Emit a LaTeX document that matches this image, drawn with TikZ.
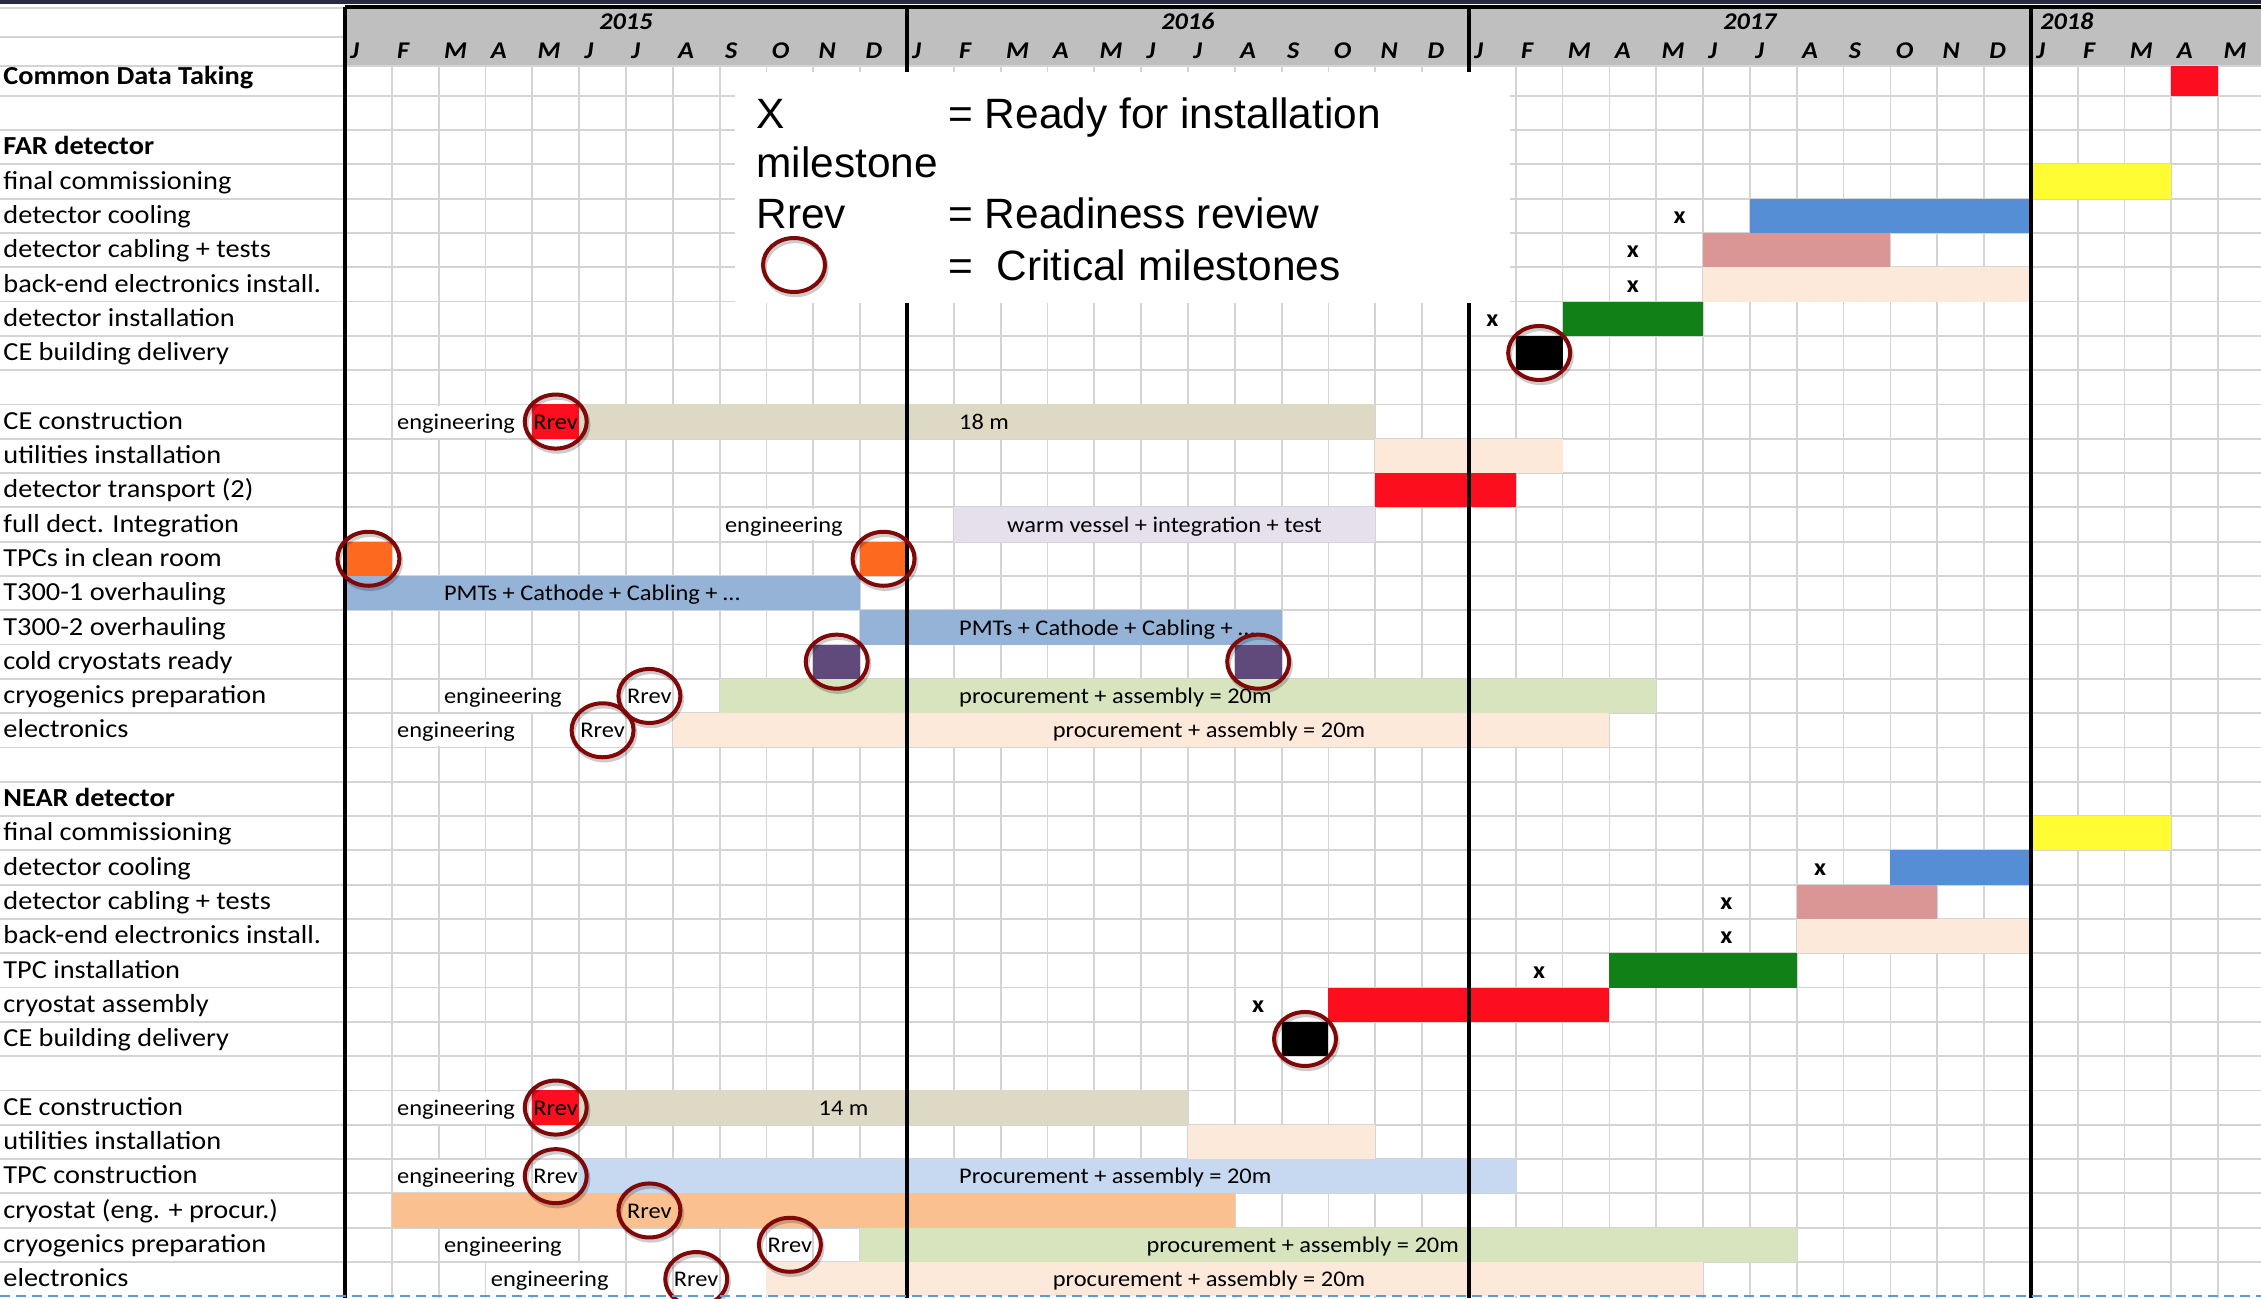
\documentclass[tikz,border=0pt]{standalone}
\usepackage{fontspec}
\setmainfont{Carlito}[FakeStretch=1.09]
\newfontfamily\legfont{Liberation Sans}
\usetikzlibrary{shapes.geometric}
\definecolor{navyband}{RGB}{38,42,68}
\definecolor{hdrgray}{RGB}{191,191,191}
\definecolor{gridgray}{RGB}{212,212,212}
\definecolor{cred}{RGB}{252,14,30}
\definecolor{ctan}{RGB}{221,217,196}
\definecolor{cpeach}{RGB}{252,233,218}
\definecolor{clav}{RGB}{229,224,236}
\definecolor{cblueA}{RGB}{149,179,215}
\definecolor{ccool}{RGB}{85,142,213}
\definecolor{cpink}{RGB}{217,150,148}
\definecolor{cdgreen}{RGB}{17,128,22}
\definecolor{cyellow}{RGB}{255,252,52}
\definecolor{corange}{RGB}{253,106,31}
\definecolor{cpurple}{RGB}{96,74,123}
\definecolor{clgreen}{RGB}{215,228,189}
\definecolor{clblue}{RGB}{198,217,241}
\definecolor{ccryo}{RGB}{250,192,144}
\definecolor{critred}{RGB}{128,8,8}
\definecolor{dashblue}{RGB}{91,155,213}
\newcommand\rowlab[3][lab]{\node[#1] (lab#2) at (3,{rb(#2)}) {#3};}
\newcommand\gbar[4]{\fill[#4] ({mx(#2)},{rt(#1)}) rectangle ({mx(#3)},{rt(#1+1)});}
\newcommand\wcell[3]{\fill[white] ({mx(#2)+1},{rt(#1)+1.2}) rectangle ({mx(#3)-1},{rt(#1+1)-1.2});}
\newcommand\btext[4]{\node[btxt] (#1) at ({mx(#3)+5},{rb(#2)}) {#4};}
\newcommand\ctext[4]{\node[btxt,anchor=base] (#1) at ({mx(#3)},{rb(#2)}) {#4};}
\newcommand\xmark[3]{\node[xmk] (#1) at ({mx(#3+0.5)},{rb(#2)}) {x};}
\newcommand\crit[3]{\draw[critshadow] ({mx(#2)+1.5},{rc(#3)+3}) ellipse [x radius=15.5pt, y radius=13.5pt];
  \node[crit] (#1) at ({mx(#2)},{rc(#3)}) {};}
\begin{document}
\begin{tikzpicture}[x=0.5pt,y=-0.5pt,
  declare function={mx(\k)=345+46.83*\k; rt(\r)=61.4+34.3*\r; rb(\r)=86.2+34.3*\r; rc(\r)=78.55+34.3*\r;},
  grid/.style={draw=gridgray, line width=0.9pt},
  yrline/.style={draw=black, line width=1.7pt},
  lab/.style={anchor=base west, inner sep=0pt, font=\fontsize{13}{15}\selectfont},
  labb/.style={anchor=base west, inner sep=0pt, font=\fontsize{13}{15}\selectfont\bfseries},
  btxt/.style={anchor=base west, inner sep=0pt, font=\fontsize{11.2}{13}\selectfont},
  hdr/.style={anchor=base west, inner sep=0pt, font=\fontsize{12}{14}\selectfont\bfseries\itshape},
  xmk/.style={anchor=base, inner sep=0pt, font=\fontsize{12}{14}\selectfont\bfseries},
  leg/.style={anchor=base west, inner sep=0pt, font=\legfont\fontsize{21.2}{25}\selectfont},
  crit/.style={ellipse, draw=critred, line width=2pt, minimum width=31pt, minimum height=27pt, inner sep=0pt},
  critshadow/.style={draw=black, opacity=0.2, line width=2.2pt}]
\useasboundingbox (0,0) rectangle (2261,1298);
\clip (0,0) rectangle (2261,1298);
\fill[white] (0,0) rectangle (2261,1298);
\fill[navyband] (0,0) rectangle (2261,3.5);
\fill[hdrgray] (345,7) rectangle (2261,66);
% grid
\draw[grid] (0,8) -- (345,8);
\draw[grid] (0,37) -- (345,37);
\draw[grid] (0,66) -- (2261,66);
\foreach \r in {1,...,35} \draw[grid] (0,{rt(\r)}) -- (2261,{rt(\r)});
\foreach \k in {1,...,40} \draw[grid] ({mx(\k)},66) -- ({mx(\k)},1298);
% bars
\fill[cred] ({mx(39)},66) rectangle ({mx(40)},{rt(1)});
\gbar{3}{36}{39}{cyellow}
\gbar{4}{30}{36}{ccool}
\gbar{5}{29}{33}{cpink}
\gbar{6}{29}{36}{cpeach}
\gbar{7}{26}{29}{cdgreen}
\gbar{8}{25}{26}{black}
\gbar{10}{4}{5}{cred}
\gbar{10}{5}{22}{ctan}
\gbar{11}{22}{26}{cpeach}
\gbar{12}{22}{25}{cred}
\gbar{13}{13}{22}{clav}
\gbar{14}{0}{1}{corange}
\gbar{14}{11}{12}{corange}
\gbar{15}{0}{11}{cblueA}
\gbar{16}{11}{20}{cblueA}
\gbar{17}{10}{11}{cpurple}
\gbar{17}{19}{20}{cpurple}
\gbar{18}{8}{28}{clgreen}
\gbar{19}{7}{27}{cpeach}
\gbar{22}{36}{39}{cyellow}
\gbar{23}{33}{36}{ccool}
\gbar{24}{31}{34}{cpink}
\gbar{25}{31}{36}{cpeach}
\gbar{26}{27}{31}{cdgreen}
\gbar{27}{21}{27}{cred}
\gbar{28}{20}{21}{black}
\gbar{30}{4}{5}{cred}
\gbar{30}{5}{18}{ctan}
\gbar{31}{18}{22}{cpeach}
\gbar{32}{5}{25}{clblue}
\gbar{33}{1}{19}{ccryo}
\gbar{34}{11}{31}{clgreen}
\gbar{35}{9}{29}{cpeach}
% white overflow cells
\wcell{10}{1}{4}
\wcell{13}{8}{11}
\wcell{18}{2}{5}
\wcell{19}{1}{4}
\wcell{30}{1}{4}
\wcell{32}{1}{4}
\wcell{34}{2}{5}
\wcell{35}{3}{6}
% header
\draw[yrline] (345,7) -- (2261,7);
\node[hdr,anchor=base] (y2015) at ({mx(6)},29.5) {2015};
\node[hdr,anchor=base] (y2016) at ({mx(18)},29.5) {2016};
\node[hdr,anchor=base] (y2017) at ({mx(30)},29.5) {2017};
\node[hdr] (y2018) at ({mx(36)+9},29.5) {2018};
\foreach \m [count=\i from 0] in {J,F,M,A,M,J,J,A,S,O,N,D,J,F,M,A,M,J,J,A,S,O,N,D,J,F,M,A,M,J,J,A,S,O,N,D,J,F,M,A,M}
  \node[hdr] (m\i) at ({mx(\i)+5},58) {\m};
% row labels
\node[labb] (lab0) at (3,84) {Common Data Taking};
\rowlab[labb]{2}{FAR detector}
\rowlab{3}{final commissioning}
\rowlab{4}{detector cooling}
\rowlab{5}{detector cabling + tests}
\rowlab{6}{back-end electronics install.}
\rowlab{7}{detector installation}
\rowlab{8}{CE building delivery}
\rowlab{10}{CE construction}
\rowlab{11}{utilities installation}
\rowlab{12}{detector transport (2)}
\rowlab{13}{full dect. Integration}
\rowlab{14}{TPCs in clean room}
\rowlab{15}{T300-1 overhauling}
\rowlab{16}{T300-2 overhauling}
\rowlab{17}{cold cryostats ready}
\rowlab{18}{cryogenics preparation}
\rowlab{19}{electronics}
\rowlab[labb]{21}{NEAR detector}
\rowlab{22}{final commissioning}
\rowlab{23}{detector cooling}
\rowlab{24}{detector cabling + tests}
\rowlab{25}{back-end electronics install.}
\rowlab{26}{TPC installation}
\rowlab{27}{cryostat assembly}
\rowlab{28}{CE building delivery}
\rowlab{30}{CE construction}
\rowlab{31}{utilities installation}
\rowlab{32}{TPC construction}
\rowlab{33}{cryostat (eng. + procur.)}
\rowlab{34}{cryogenics preparation}
\rowlab{35}{electronics}
% bar texts
\btext{eA}{10}{1}{engineering}
\ctext{rA}{10}{4.5}{Rrev}
\btext{tA}{10}{13}{18 m}
\btext{eB}{13}{8}{engineering}
\ctext{tB}{13}{17.5}{warm vessel + integration + test}
\btext{tC}{15}{2}{PMTs + Cathode + Cabling + …}
\btext{tD}{16}{13}{PMTs + Cathode + Cabling + …}
\btext{eE}{18}{2}{engineering}
\ctext{rE}{18}{6.5}{Rrev}
\btext{tE}{18}{13}{procurement + assembly = 20m}
\btext{eF}{19}{1}{engineering}
\ctext{rF}{19}{5.5}{Rrev}
\btext{tF}{19}{15}{procurement + assembly = 20m}
\btext{eG}{30}{1}{engineering}
\ctext{rG}{30}{4.5}{Rrev}
\btext{tG}{30}{10}{14 m}
\btext{eH}{32}{1}{engineering}
\ctext{rH}{32}{4.5}{Rrev}
\btext{tH}{32}{13}{Procurement + assembly = 20m}
\ctext{rI}{33}{6.5}{Rrev}
\btext{eJ}{34}{2}{engineering}
\ctext{rJ}{34}{9.5}{Rrev}
\btext{tJ}{34}{17}{procurement + assembly = 20m}
\btext{eK}{35}{3}{engineering}
\ctext{rK}{35}{7.5}{Rrev}
\btext{tK}{35}{15}{procurement + assembly = 20m}
% x milestones
\xmark{x1}{4}{28}
\xmark{x2}{5}{27}
\xmark{x3}{6}{27}
\xmark{x4}{7}{24}
\xmark{x5}{23}{31}
\xmark{x6}{24}{29}
\xmark{x7}{25}{29}
\xmark{x8}{26}{25}
\xmark{x9}{27}{19}
% year lines
\foreach \k in {0,12,24,36} \draw[yrline] ({mx(\k)},7) -- ({mx(\k)},1298);
% legend
\fill[white] (735,72) rectangle (1510,303);
\node[leg] (legX) at (756,128) {X};
\node[leg] (legXt) at (948,128) {= Ready for installation};
\node[leg] (legM) at (756,177) {milestone};
\node[leg] (legR) at (756,228) {Rrev};
\node[leg] (legRt) at (948,228) {= Readiness review};
\draw[critshadow] (795.5,268) ellipse [x radius=15.5pt, y radius=13.5pt];
\node[crit] (legC) at (794,265) {};
\node[leg] (legCt) at (948,280) {= ~Critical milestones};
% critical milestones
\crit{c1}{25.5}{8}
\crit{c2}{4.5}{10}
\crit{c3}{0.5}{14}
\crit{c4}{11.5}{14}
\crit{c5}{10.5}{17}
\crit{c6}{19.5}{17}
\crit{c7}{6.5}{18}
\crit{c8}{5.5}{19}
\crit{c9}{20.5}{28}
\crit{c10}{4.5}{30}
\crit{c11}{4.5}{32}
\crit{c12}{6.5}{33}
\crit{c13}{9.5}{34}
\crit{c14}{7.5}{35}
% bottom dashed line
\draw[dashblue, line width=1pt, dash pattern=on 5pt off 3pt] (0,{rt(36)}) -- (2261,{rt(36)});
\end{tikzpicture}
\end{document}
